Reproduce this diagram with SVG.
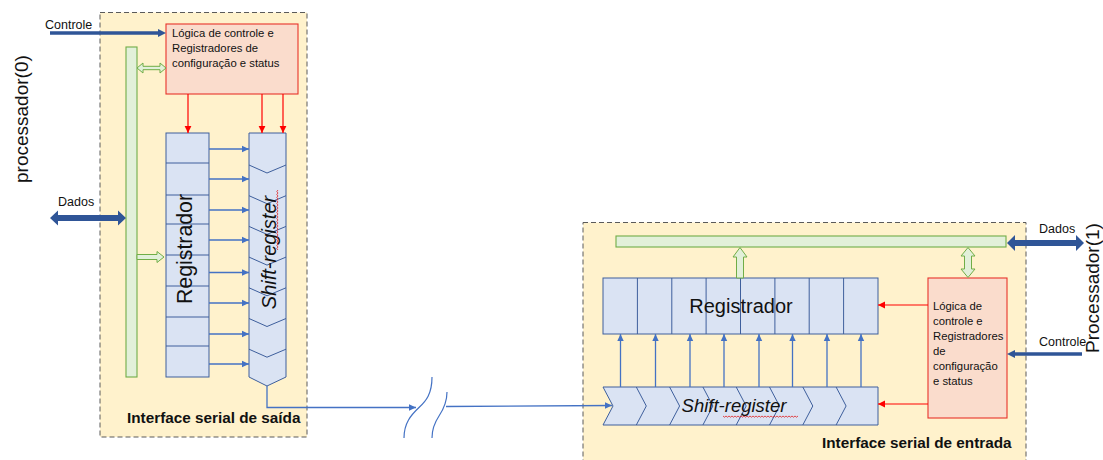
<svg xmlns="http://www.w3.org/2000/svg" width="1103" height="460" viewBox="0 0 1103 460">
  <style>
    .frame { fill: #FFF2CC; stroke: #5A5A5A; stroke-width: 1; stroke-dasharray: 5 3; }
    .ctrl { fill: #FADCCC; stroke: #E8342A; stroke-width: 1.1; }
    .reg { fill: #DAE3F3; stroke: #3E5F9C; stroke-width: 1; }
    .bus { fill: #E2F0D9; stroke: #70AD47; stroke-width: 1.1; }
    .busarrow { fill: #E2F0D9; stroke: #70AD47; stroke-width: 1; }
    .thick { fill: #2F5597; }
    .thickline { stroke: #2F5597; stroke-width: 3.5; fill: none; }
    .blue { stroke: #4472C4; stroke-width: 1.3; fill: none; marker-end: url(#hb); }
    .red { stroke: #FF0000; stroke-width: 1.2; fill: none; marker-end: url(#hr); }
    .brk { stroke: #4472C4; stroke-width: 1.2; fill: none; }
    .chev { stroke: #3E5F9C; stroke-width: 1; fill: none; }
    .wavy { stroke: #E02020; stroke-width: 0.8; fill: none; }
    text { font-family: "Liberation Sans", Arial, sans-serif; fill: #111; }
    .small { font-size: 11.3px; }
    .lbl { font-size: 12.5px; }
    .big { font-size: 19px; }
    .title { font-size: 15.3px; font-weight: bold; }
  </style>
  <defs>
    <marker id="hb" markerUnits="userSpaceOnUse" markerWidth="8" markerHeight="8" refX="7" refY="4" orient="auto">
      <path d="M0,0.8 L7,4 L0,7.2 z" fill="#4472C4"/>
    </marker>
    <marker id="hr" markerUnits="userSpaceOnUse" markerWidth="8" markerHeight="8" refX="7" refY="4" orient="auto">
      <path d="M0,0.6 L7,4 L0,7.4 z" fill="#FF0000"/>
    </marker>
  </defs>

  <!-- processor labels -->
  <text class="big" transform="translate(27.5,183) rotate(-90)">processador(0)</text>
  <text class="big" transform="translate(1098.5,353) rotate(-90)">Processador(1)</text>

  <!-- output serial interface -->
  <g id="tx-interface">
    <rect class="frame" x="100" y="12.5" width="207" height="424.5"/>
    <text class="title" x="127" y="423">Interface serial de saída</text>
  </g>

  <g id="tx-bus">
    <rect class="bus" x="126" y="47" width="11" height="330"/>
  </g>

  <g id="tx-control">
    <rect class="ctrl" x="166" y="24" width="132" height="70"/>
    <text class="small" x="172" y="37">Lógica de controle e</text>
    <text class="small" x="172" y="52">Registradores de</text>
    <text class="small" x="172" y="66.5">configuração e status</text>
  </g>

  <g id="tx-register">
    <rect class="reg" x="166" y="133" width="43" height="244"/>
    <path class="chev" d="M166,163H209M166,195H209M166,224H209M166,255H209M166,286H209M166,317H209M166,346H209"/>
    <text class="big" style="font-size:21.3px" text-anchor="middle" transform="translate(192,249) rotate(-90)">Registrador</text>
  </g>

  <g id="tx-shift-register">
    <path class="reg" d="M249,133H286V377L267,386L249,377Z"/>
    <path class="chev" d="M249,165L267,173L286,165M249,195.7L267,203.7L286,195.7M249,226.4L267,234.4L286,226.4M249,257.1L267,265.1L286,257.1M249,287.8L267,295.8L286,287.8M249,318.5L267,326.5L286,318.5M249,349.2L267,357.2L286,349.2"/>
    <text class="big" style="font-style:italic;font-size:20px" text-anchor="middle" transform="translate(276,252.5) rotate(-90)">Shift-register</text>
    <path class="wavy" d="M278,190l-1.2,1.5l1.2,1.5l-1.2,1.5l1.2,1.5l-1.2,1.5l1.2,1.5l-1.2,1.5l1.2,1.5l-1.2,1.5l1.2,1.5l-1.2,1.5l1.2,1.5l-1.2,1.5l1.2,1.5l-1.2,1.5l1.2,1.5l-1.2,1.5l1.2,1.5l-1.2,1.5l1.2,1.5l-1.2,1.5l1.2,1.5l-1.2,1.5l1.2,1.5l-1.2,1.5l1.2,1.5l-1.2,1.5l1.2,1.5l-1.2,1.5l1.2,1.5l-1.2,1.5l1.2,1.5l-1.2,1.5l1.2,1.5l-1.2,1.5l1.2,1.5l-1.2,1.5l1.2,1.5l-1.2,1.5l1.2,1.5"/>
  </g>

  <!-- input serial interface (frame runs past the lower edge) -->
  <g id="rx-interface">
    <rect class="frame" x="583" y="222.5" width="443" height="250"/>
    <text class="title" x="822" y="448">Interface serial de entrada</text>
  </g>

  <g id="rx-bus">
    <rect class="bus" x="616" y="236" width="390" height="11"/>
  </g>

  <g id="rx-register">
    <rect class="reg" x="603" y="278" width="275" height="56"/>
    <path class="chev" d="M637.4,278V334M671.8,278V334M706.1,278V334M740.5,278V334M774.9,278V334M809.2,278V334M843.6,278V334"/>
    <text class="big" style="font-size:20px" text-anchor="middle" x="741" y="313">Registrador</text>
  </g>

  <g id="rx-shift-register">
    <path class="reg" d="M603,387H878V425H603L613,406Z"/>
    <path class="chev" d="M636.3,387L646.3,406L636.3,425M669.6,387L679.6,406L669.6,425M702.9,387L712.9,406L702.9,425M736.2,387L746.2,406L736.2,425M769.5,387L779.5,406L769.5,425M802.8,387L812.8,406L802.8,425M836.1,387L846.1,406L836.1,425"/>
    <text class="big" style="font-style:italic;font-size:18.5px" text-anchor="middle" x="734" y="412">Shift-register</text>
    <path class="wavy" d="M723,416l1.5,1.2l1.5,-1.2l1.5,1.2l1.5,-1.2l1.5,1.2l1.5,-1.2l1.5,1.2l1.5,-1.2l1.5,1.2l1.5,-1.2l1.5,1.2l1.5,-1.2l1.5,1.2l1.5,-1.2l1.5,1.2l1.5,-1.2l1.5,1.2l1.5,-1.2l1.5,1.2l1.5,-1.2l1.5,1.2l1.5,-1.2l1.5,1.2l1.5,-1.2l1.5,1.2l1.5,-1.2l1.5,1.2l1.5,-1.2l1.5,1.2l1.5,-1.2l1.5,1.2l1.5,-1.2l1.5,1.2l1.5,-1.2l1.5,1.2l1.5,-1.2l1.5,1.2l1.5,-1.2l1.5,1.2l1.5,-1.2l1.5,1.2l1.5,-1.2l1.5,1.2l1.5,-1.2l1.5,1.2l1.5,-1.2l1.5,1.2l1.5,-1.2l1.5,1.2l1.5,-1.2"/>
  </g>

  <g id="rx-control">
    <rect class="ctrl" x="928" y="278" width="79" height="140"/>
    <text class="small" x="933" y="310">Lógica de</text>
    <text class="small" x="933" y="325">controle e</text>
    <text class="small" x="933" y="340">Registradores</text>
    <text class="small" x="933" y="355">de</text>
    <text class="small" x="933" y="370">configuração</text>
    <text class="small" x="933" y="385">e status</text>
  </g>

  <!-- connectors -->
  <g id="connectors">
    <!-- processor(0) side -->
    <text class="lbl" x="45" y="28.5">Controle</text>
    <line class="thickline" x1="50" y1="33" x2="160" y2="33"/>
    <polygon class="thick" points="158,29 166,33 158,37"/>
    <text class="lbl" x="58" y="206">Dados</text>
    <polygon class="thick" points="50,218 58,210.5 58,215 118,215 118,210.5 126,218 118,225.5 118,221 58,221 58,225.5"/>

    <polygon class="busarrow" points="137,68 143,63 143,66.3 160,66.3 160,63 166,68 160,73 160,69.7 143,69.7 143,73"/>
    <polygon class="busarrow" points="137,254.5 157,254.5 157,251.5 164,257 157,262.5 157,259.5 137,259.5"/>

    <line class="red" x1="188" y1="94" x2="188" y2="133"/>
    <line class="red" x1="262" y1="94" x2="262" y2="133"/>
    <line class="red" x1="283" y1="94" x2="283" y2="133"/>

    <line class="blue" x1="209" y1="149" x2="249" y2="149"/>
    <line class="blue" x1="209" y1="179" x2="249" y2="179"/>
    <line class="blue" x1="209" y1="210" x2="249" y2="210"/>
    <line class="blue" x1="209" y1="240" x2="249" y2="240"/>
    <line class="blue" x1="209" y1="272.5" x2="249" y2="272.5"/>
    <line class="blue" x1="209" y1="303" x2="249" y2="303"/>
    <line class="blue" x1="209" y1="334" x2="249" y2="334"/>
    <line class="blue" x1="209" y1="364" x2="249" y2="364"/>

    <!-- serial link with break -->
    <path class="blue" d="M267,386V407.5H416"/>
    <path class="brk" d="M432,377C432,394 426,401 419,407.5C411,415 404,423 404,438"/>
    <path class="brk" d="M447,392C447,403 443,410 439,416C435,422 432,428 432,438"/>
    <path class="blue" d="M446,406.5L612,405.5"/>

    <!-- processor(1) side -->
    <polygon class="busarrow" points="736.5,278 736.5,257 733,257 740,247.5 747,257 743.5,257 743.5,278"/>
    <polygon class="busarrow" points="968,247.5 975,256 971.5,256 971.5,269 975,269 968,277.5 961,269 964.5,269 964.5,256 961,256"/>

    <line class="blue" x1="620.5" y1="387" x2="620.5" y2="334"/>
    <line class="blue" x1="655.5" y1="387" x2="655.5" y2="334"/>
    <line class="blue" x1="690" y1="387" x2="690" y2="334"/>
    <line class="blue" x1="724" y1="387" x2="724" y2="334"/>
    <line class="blue" x1="759" y1="387" x2="759" y2="334"/>
    <line class="blue" x1="792.5" y1="387" x2="792.5" y2="334"/>
    <line class="blue" x1="827" y1="387" x2="827" y2="334"/>
    <line class="blue" x1="861" y1="387" x2="861" y2="334"/>

    <line class="red" x1="928" y1="305" x2="878" y2="305"/>
    <line class="red" x1="928" y1="404" x2="878" y2="404"/>

    <text class="lbl" x="1039" y="233">Dados</text>
    <polygon class="thick" points="1007,243 1015,235 1015,240 1076,240 1076,235 1084,243 1076,251 1076,246 1015,246 1015,251"/>
    <text class="lbl" x="1039" y="346">Controle</text>
    <line class="thickline" x1="1082" y1="354" x2="1013" y2="354"/>
    <polygon class="thick" points="1015,350 1007,354 1015,358"/>
  </g>
</svg>
